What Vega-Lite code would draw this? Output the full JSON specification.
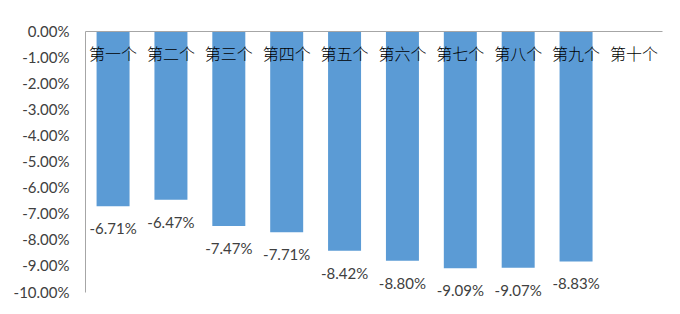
{
  "$schema": "https://vega.github.io/schema/vega-lite/v6.json",
  "width": 577,
  "height": 261,
  "autosize": {"type": "none"},
  "padding": {"left": 85, "top": 31, "right": 18, "bottom": 22},
  "background": "white",
  "config": {
    "view": {"stroke": null},
    "locale": {"number": {"decimal": ".", "thousands": ",", "grouping": [3], "currency": ["$", ""], "minus": "-"}}
  },
  "data": {
    "values": [
      {"cat": "第一个", "value": -0.0671},
      {"cat": "第二个", "value": -0.0647},
      {"cat": "第三个", "value": -0.0747},
      {"cat": "第四个", "value": -0.0771},
      {"cat": "第五个", "value": -0.0842},
      {"cat": "第六个", "value": -0.0880},
      {"cat": "第七个", "value": -0.0909},
      {"cat": "第八个", "value": -0.0907},
      {"cat": "第九个", "value": -0.0883},
      {"cat": "第十个", "value": null}
    ]
  },
  "encoding": {
    "x": {
      "field": "cat",
      "type": "nominal",
      "sort": null,
      "scale": {
        "domain": ["第一个", "第二个", "第三个", "第四个", "第五个", "第六个", "第七个", "第八个", "第九个", "第十个"],
        "paddingInner": 0.43, "paddingOuter": 0.2
      },
      "axis": {
        "title": null,
        "orient": "bottom",
        "offset": -261,
        "labelAngle": 0,
        "ticks": false,
        "domainColor": "#a6a6a6",
        "labelFont": "Noto Sans CJK SC",
        "labelFontSize": 16,
        "labelFontWeight": 300,
        "labelColor": "#000000",
        "labelPadding": 15,
        "zindex": 2
      }
    },
    "y": {
      "field": "value",
      "type": "quantitative",
      "scale": {"domain": [-0.1, 0], "nice": false},
      "axis": {
        "title": null,
        "values": [0, -0.01, -0.02, -0.03, -0.04, -0.05, -0.06, -0.07, -0.08, -0.09, -0.1],
        "format": ".2%",
        "grid": false,
        "ticks": false,
        "domainColor": "#a6a6a6",
        "labelFont": "Lato",
        "labelFontSize": 15,
        "labelColor": "#404040",
        "labelPadding": 16
      }
    }
  },
  "layer": [
    {"mark": {"type": "bar", "color": "#5b9bd5"}},
    {
      "mark": {"type": "text", "baseline": "middle", "dy": 23, "font": "Lato", "fontSize": 15, "color": "#404040"},
      "encoding": {"text": {"field": "value", "type": "quantitative", "format": ".2%"}}
    }
  ]
}
